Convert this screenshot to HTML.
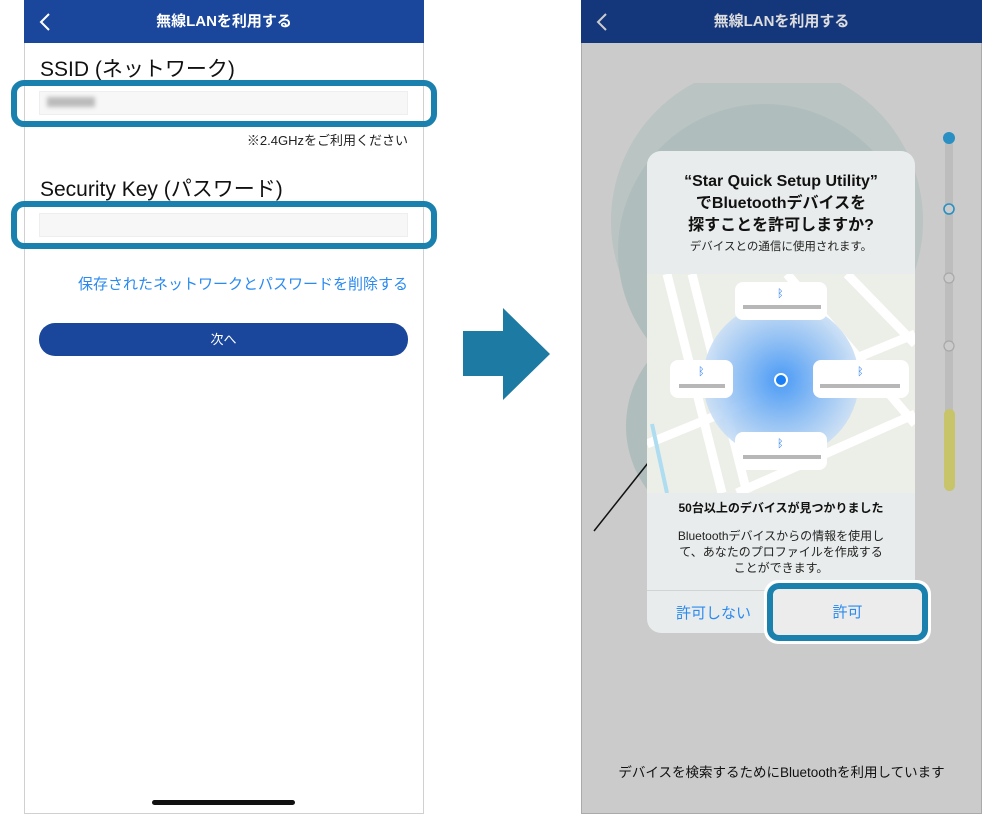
<!DOCTYPE html>
<html><head><meta charset="utf-8"><style>
*{margin:0;padding:0;box-sizing:border-box}
body{width:1001px;height:822px;background:#fff;position:relative;overflow:hidden;font-family:"Liberation Sans","Noto Sans CJK JP",sans-serif}
.a{position:absolute}
.hdr{color:#fff;font-size:15px;font-weight:bold;text-align:center;line-height:43px}
</style></head><body>
<!-- left phone -->
<div class="a" style="left:24px;top:0;width:400px;height:814px;border:1px solid #d0d0d0;border-top:none"></div>
<div class="a hdr" style="left:24px;top:0;width:400px;height:43px;background:#1a479c">無線LANを利用する</div>
<svg class="a" style="left:38px;top:12px" width="14" height="20"><polyline points="11,2 3,10 11,18" fill="none" stroke="#fff" stroke-width="2"/></svg>
<div class="a" style="left:40px;top:53px;font-size:21px;color:#111">SSID (ネットワーク)</div>
<div class="a" style="left:39px;top:91px;width:369px;height:24px;background:#f7f7f7;border:1px solid #eee"></div>
<div class="a" style="left:47px;top:97px;width:48px;height:10px;background:#bbb;filter:blur(2px)"></div>
<div class="a" style="left:11px;top:80px;width:426px;height:47px;border:6px solid #1a80ad;border-radius:13px"></div>
<div class="a" style="left:200px;top:130px;width:208px;text-align:right;font-size:13px;color:#222">※2.4GHzをご利用ください</div>
<div class="a" style="left:40px;top:173px;font-size:21px;color:#111">Security Key (パスワード)</div>
<div class="a" style="left:39px;top:213px;width:369px;height:24px;background:#f7f7f7;border:1px solid #eee"></div>
<div class="a" style="left:11px;top:201px;width:426px;height:48px;border:6px solid #1a80ad;border-radius:13px"></div>
<div class="a" style="left:40px;top:273px;width:368px;text-align:right;font-size:15px;color:#2a8af0">保存されたネットワークとパスワードを削除する</div>
<div class="a" style="left:39px;top:323px;width:369px;height:33px;background:#1a479c;border-radius:16px;color:#fff;font-size:13px;text-align:center;line-height:33px">次へ</div>
<div class="a" style="left:152px;top:800px;width:143px;height:5px;background:#111;border-radius:3px"></div>
<!-- arrow -->
<svg class="a" style="left:0;top:0" width="1001" height="822">
<polygon points="463,331 503,331 503,308 550,354 503,400 503,376 463,376" fill="#1c7aa3"/>
</svg>
<!-- right phone -->
<div class="a" style="left:581px;top:0;width:401px;height:814px;background:#cbcbcb;border:1px solid #aaa;overflow:hidden">
<svg class="a" style="left:0;top:0" width="401" height="814">
<defs><clipPath id="c"><rect x="0" y="82" width="401" height="740"/></clipPath></defs>
<g clip-path="url(#c)">
<circle cx="185" cy="220" r="156" fill="#b9c4c3"/>
<circle cx="183" cy="250" r="147" fill="#afbdbc"/>
<circle cx="150" cy="425" r="106" fill="#afbdbc"/>
</g>
<line x1="12" y1="530" x2="66" y2="462" stroke="#111" stroke-width="1.5"/>
<rect x="363" y="137" width="8" height="353" rx="4" fill="#bdbdbd"/>
<rect x="362" y="408" width="11" height="82" rx="5.5" fill="#c8c46a"/>
<circle cx="367" cy="137" r="6" fill="#2a8fc2"/>
<circle cx="367" cy="208" r="5" fill="#cbcbcb" stroke="#2a8fc2" stroke-width="1.6"/>
<circle cx="367" cy="277" r="5" fill="#cbcbcb" stroke="#a8a8a8" stroke-width="1.2"/>
<circle cx="367" cy="345" r="5" fill="#cbcbcb" stroke="#a8a8a8" stroke-width="1.2"/>
</svg>
</div>
<div class="a hdr" style="left:581px;top:0;width:401px;height:43px;background:#14377c;color:#ddd">無線LANを利用する</div>
<svg class="a" style="left:595px;top:12px" width="14" height="20"><polyline points="11,2 3,10 11,18" fill="none" stroke="#ccc" stroke-width="2"/></svg>
<!-- dialog -->
<div class="a" style="left:647px;top:151px;width:268px;height:482px;background:#e9ecec;border-radius:14px;overflow:hidden">
<div class="a" style="left:0;top:20px;width:268px;text-align:center;font-size:16px;font-weight:bold;line-height:22px;color:#111">“Star Quick Setup Utility”<br>でBluetoothデバイスを<br>探すことを許可しますか?</div>
<div class="a" style="left:0;top:87px;width:268px;text-align:center;font-size:11.5px;color:#222">デバイスとの通信に使用されます。</div>
<svg class="a" style="left:0;top:123px" width="268" height="219">
<rect width="268" height="219" fill="#eceee8"/>
<g stroke="#fff" stroke-width="9" fill="none">
<line x1="20" y1="0" x2="75" y2="219"/><line x1="45" y1="0" x2="100" y2="219"/>
<line x1="140" y1="0" x2="268" y2="150"/><line x1="200" y1="0" x2="268" y2="70"/>
<line x1="0" y1="170" x2="268" y2="60"/><line x1="90" y1="219" x2="268" y2="140"/>
</g>
<line x1="5" y1="150" x2="20" y2="219" stroke="#aedcf0" stroke-width="4"/>
<defs><radialGradient id="g"><stop offset="0" stop-color="#4a9af5"/><stop offset="1" stop-color="#c9def5" stop-opacity=".9"/></radialGradient></defs>
<circle cx="134" cy="106" r="78" fill="url(#g)"/>
<circle cx="134" cy="106" r="6" fill="#1a7ef5" stroke="#fff" stroke-width="2"/>
<g fill="#fff">
<rect x="88" y="8" width="92" height="38" rx="8"/><rect x="23" y="86" width="63" height="38" rx="8"/>
<rect x="166" y="86" width="96" height="38" rx="8"/><rect x="88" y="158" width="92" height="38" rx="8"/>
</g>
<g fill="#999" opacity=".7">
<rect x="96" y="31" width="78" height="4"/><rect x="32" y="110" width="46" height="4"/>
<rect x="173" y="110" width="80" height="4"/><rect x="96" y="181" width="78" height="4"/>
</g>
<g fill="#2a7ef0" font-size="11"><text x="130" y="23">ᛒ</text><text x="51" y="101">ᛒ</text><text x="210" y="101">ᛒ</text><text x="130" y="173">ᛒ</text></g>
</svg>
<div class="a" style="left:0;top:348px;width:268px;text-align:center;font-size:12px;font-weight:bold;color:#111">50台以上のデバイスが見つかりました</div>
<div class="a" style="left:0;top:377px;width:268px;text-align:center;font-size:12px;line-height:16px;color:#222">Bluetoothデバイスからの情報を使用し<br>て、あなたのプロファイルを作成する<br>ことができます。</div>
<div class="a" style="left:0;top:439px;width:268px;height:1px;background:#d2d4d4"></div>
<div class="a" style="left:0;top:451px;width:133px;text-align:center;font-size:15px;color:#2a8af0">許可しない</div>
</div>
<div class="a" style="left:764px;top:580px;width:167px;height:64px;background:#fff;border-radius:14px"></div>
<div class="a" style="left:767px;top:583px;width:161px;height:58px;border:6px solid #1a80ad;border-radius:12px;background:#ececec;text-align:center;line-height:48px;font-size:15px;color:#2a8af0">許可</div>
<div class="a" style="left:581px;top:761px;width:401px;text-align:center;font-size:13.5px;color:#111">デバイスを検索するためにBluetoothを利用しています</div>
</body></html>
